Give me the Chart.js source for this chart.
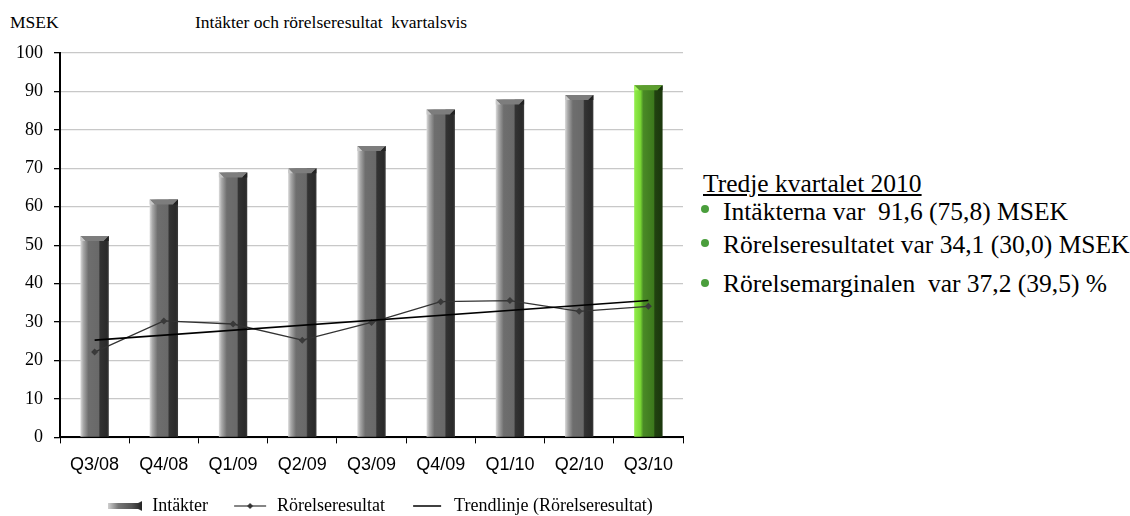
<!DOCTYPE html>
<html lang="sv">
<head>
<meta charset="utf-8">
<script src="https://cdn.jsdelivr.net/npm/chart.js@4.4.0/dist/chart.umd.min.js"></script>
<style>
  body { margin: 0; background: #fff; width: 1130px; height: 516px; overflow: hidden; position: relative; font-family: "Liberation Serif", serif; }
  #wrap { position: absolute; left: 0; top: 0; width: 772px; height: 516px; }
  .t { position: absolute; white-space: pre; line-height: 1; color: #000; font-family: "Liberation Serif", serif; }
  .small { font-size: 17.5px; }
  .big { font-size: 25.5px; }
  .dot { position: absolute; width: 8px; height: 8px; border-radius: 50%; background: #4a9e3c; }
</style>
</head>
<body>
<div class="t small" style="left:10px; top:14px;">MSEK</div>
<div class="t small" style="left:195px; top:14px;">Intäkter och rörelseresultat  kvartalsvis</div>

<div class="t big" style="left:703px; top:171px; text-decoration: underline;">Tredje kvartalet 2010</div>
<div class="dot" style="left:701px; top:205px;"></div>
<div class="t big" style="left:723px; top:199px;">Intäkterna var  91,6 (75,8) MSEK</div>
<div class="dot" style="left:701px; top:239px;"></div>
<div class="t big" style="left:723px; top:232px;">Rörelseresultatet var 34,1 (30,0) MSEK</div>
<div class="dot" style="left:701px; top:279px;"></div>
<div class="t big" style="left:723px; top:271px;">Rörelsemarginalen  var 37,2 (39,5) %</div>

<div id="wrap"><canvas id="chart"></canvas></div>

<script>
const categories = ["Q3/08", "Q4/08", "Q1/09", "Q2/09", "Q3/09", "Q4/09", "Q1/10", "Q2/10", "Q3/10"];
const intakter = [52.4, 61.9, 68.9, 70.0, 75.8, 85.3, 87.9, 89.1, 91.6];
const rorelseresultat = [22.2, 30.3, 29.5, 25.3, 29.9, 35.3, 35.6, 32.8, 34.1];
// trendlinjen: bara ändpunkterna, linjen dras rakt mellan dem
const trendlinje = [25.3, null, null, null, null, null, null, null, 35.6];
const yMin = 0, yMax = 100, yStep = 10;

const BAR_PCT = 0.41;
const greyStops = [[0, "#dcdcdc"], [0.1, "#a9a9a9"], [0.28, "#6e6e6e"], [0.64, "#696969"], [0.69, "#333"], [0.93, "#2a2a2a"], [1, "#3d3d3d"]];
const greenStops = [[0, "#93ee4c"], [0.22, "#79d634"], [0.32, "#4a8a26"], [0.68, "#3d791d"], [0.73, "#214210"], [1, "#1b370d"]];

function barFill(c) {
  const last = c.dataIndex === categories.length - 1;
  const xs = c.chart.scales.x;
  if (!xs || c.dataIndex === undefined) return last ? "#3d791d" : "#696969";
  const cx = xs.getPixelForValue(c.dataIndex);
  const w = xs.width / categories.length * BAR_PCT;
  const g = c.chart.ctx.createLinearGradient(cx - w / 2, 0, cx + w / 2, 0);
  (last ? greenStops : greyStops).forEach(s => g.addColorStop(s[0], s[1]));
  return g;
}

// avfasad topp på staplarna
const bevel = {
  id: "bevel",
  afterDatasetDraw(chart, args) {
    if (args.index !== 0) return;
    const ctx = chart.ctx;
    args.meta.data.forEach((bar, i) => {
      const last = i === categories.length - 1;
      const l = bar.x - bar.width / 2, r = bar.x + bar.width / 2, t = bar.y, d = 5;
      ctx.save();
      ctx.fillStyle = last ? "#5c9e2e" : "#7d7d7d";
      ctx.beginPath();
      ctx.moveTo(l, t); ctx.lineTo(r, t); ctx.lineTo(r - d, t + d); ctx.lineTo(l + d, t + d);
      ctx.closePath(); ctx.fill();
      ctx.fillStyle = last ? "#a6f560" : "#c8c8c8";
      ctx.beginPath();
      ctx.moveTo(l, t); ctx.lineTo(l + d, t + d); ctx.lineTo(l, t + d);
      ctx.closePath(); ctx.fill();
      ctx.fillStyle = last ? "#15300a" : "#222";
      ctx.beginPath();
      ctx.moveTo(r, t); ctx.lineTo(r - d, t + d); ctx.lineTo(r, t + d);
      ctx.closePath(); ctx.fill();
      ctx.restore();
    });
  }
};

// flytta förklaringen lite (den ligger inte centrerad under diagramytan i originalet)
const legendShift = {
  id: "legendShift",
  afterLayout(chart) {
    const lg = chart.legend;
    if (!lg) return;
    lg.left += 36; lg.right += 36;
    lg.top -= 14; lg.bottom -= 14;
  }
};

function icon(draw) {
  const cv = document.createElement("canvas");
  cv.width = 34; cv.height = 12;
  draw(cv.getContext("2d"));
  return cv;
}
const barIcon = icon(ctx => {
  const g = ctx.createLinearGradient(0, 0, 34, 0);
  g.addColorStop(0, "#d0d0d0"); g.addColorStop(0.3, "#777"); g.addColorStop(0.7, "#555"); g.addColorStop(1, "#222");
  ctx.fillStyle = g;
  ctx.beginPath();
  ctx.moveTo(0, 3); ctx.lineTo(30, 3); ctx.lineTo(34, 1); ctx.lineTo(34, 11); ctx.lineTo(30, 9); ctx.lineTo(0, 9);
  ctx.closePath(); ctx.fill();
});
const markerIcon = icon(ctx => {
  ctx.strokeStyle = "#333"; ctx.lineWidth = 1.2;
  ctx.beginPath(); ctx.moveTo(1, 6); ctx.lineTo(33, 6); ctx.stroke();
  ctx.fillStyle = "#333";
  ctx.beginPath(); ctx.moveTo(17, 3); ctx.lineTo(20, 6); ctx.lineTo(17, 9); ctx.lineTo(14, 6); ctx.closePath(); ctx.fill();
});
const trendIcon = icon(ctx => {
  ctx.strokeStyle = "#000"; ctx.lineWidth = 1.5;
  ctx.beginPath(); ctx.moveTo(3, 6); ctx.lineTo(31, 6); ctx.stroke();
});

new Chart(document.getElementById("chart"), {
  type: "bar",
  data: {
    labels: categories,
    datasets: [
      {
        label: "Intäkter",
        data: intakter,
        backgroundColor: barFill,
        barPercentage: BAR_PCT,
        categoryPercentage: 1,
        order: 2
      },
      {
        type: "line",
        label: "Rörelseresultat",
        data: rorelseresultat,
        borderColor: "#333",
        borderWidth: 1.3,
        pointStyle: "rectRot",
        pointRadius: 3.5,
        pointBackgroundColor: "#3a3a3a",
        pointBorderWidth: 0,
        tension: 0,
        order: 1
      },
      {
        type: "line",
        label: "Trendlinje (Rörelseresultat)",
        data: trendlinje,
        borderColor: "#000",
        borderWidth: 1.6,
        pointRadius: 0,
        spanGaps: true,
        order: 0
      }
    ]
  },
  options: {
    responsive: true,
    maintainAspectRatio: false,
    animation: false,
    layout: { padding: { left: 5, right: 89, top: 53, bottom: -23 } },
    plugins: {
      title: { display: false },
      tooltip: { enabled: false },
      legend: {
        position: "bottom",
        labels: {
          color: "#000",
          font: { family: "Liberation Serif", size: 18 },
          usePointStyle: true,
          pointStyleWidth: 36,
          padding: 24,
          generateLabels: () => [
            { text: "Intäkter", pointStyle: barIcon, datasetIndex: 0, fontColor: "#000" },
            { text: "Rörelseresultat", pointStyle: markerIcon, datasetIndex: 1, fontColor: "#000" },
            { text: "Trendlinje (Rörelseresultat)", pointStyle: trendIcon, datasetIndex: 2, fontColor: "#000" }
          ]
        }
      }
    },
    scales: {
      x: {
        grid: { drawOnChartArea: false, drawTicks: true, tickLength: 6, tickColor: "#000", offset: true },
        border: { color: "#000", width: 2 },
        ticks: { color: "#000", font: { family: "Liberation Sans", size: 18 }, padding: 11, maxRotation: 0, autoSkip: false }
      },
      y: {
        min: yMin,
        max: yMax,
        ticks: { stepSize: yStep, color: "#000", font: { family: "Liberation Serif", size: 18 }, padding: 11 },
        grid: { color: "#c8c8c8", lineWidth: 1.3, tickColor: "#000", tickLength: 6 },
        border: { color: "#000", width: 2 }
      }
    }
  },
  plugins: [bevel, legendShift]
});
</script>
</body>
</html>
